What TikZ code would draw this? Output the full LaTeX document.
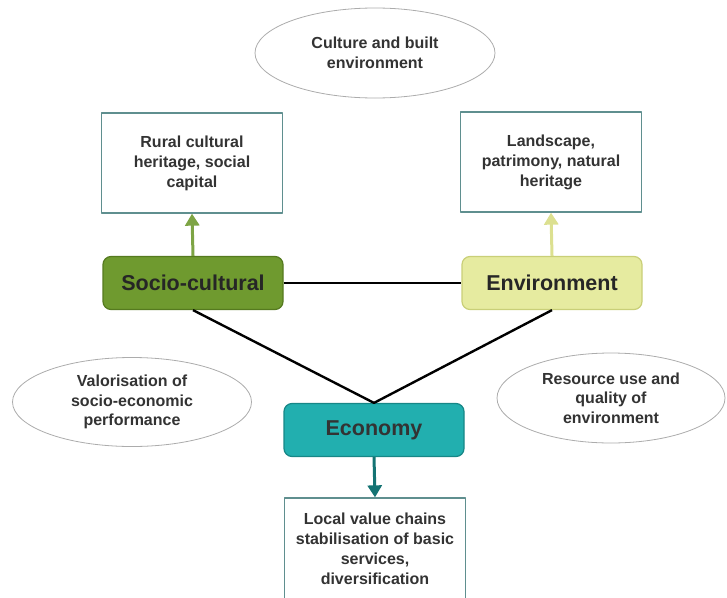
\documentclass[tikz,border=0pt]{standalone}
\usepackage{fontspec}
\setmainfont{Liberation Sans}
\usetikzlibrary{shapes.geometric,arrows.meta}
\definecolor{socfill}{HTML}{6F9A2F}
\definecolor{socedge}{HTML}{557A1F}
\definecolor{envfill}{HTML}{E6EBA0}
\definecolor{envedge}{HTML}{C9CF78}
\definecolor{ecofill}{HTML}{22AFAF}
\definecolor{ecoedge}{HTML}{178787}
\definecolor{boxedge}{HTML}{5F8F8F}
\definecolor{textgray}{HTML}{333333}
\begin{document}
\begin{tikzpicture}[x=1pt, y=-1pt, line join=round,
		>={Triangle[width=14pt,length=12pt]},
		pillar/.style={draw, rounded corners=8pt, line width=1.2pt, minimum width=180pt, minimum height=53pt, font=\fontsize{21.5}{24}\selectfont\bfseries},
		outcome/.style={draw=boxedge, line width=1.3pt, fill=white, minimum width=181pt, minimum height=100pt, align=center, text=textgray, font=\fontsize{16}{20}\selectfont\bfseries},
		theme/.style={ellipse, draw=gray!65, line width=0.8pt, fill=white, inner sep=0pt, align=center, text=textgray, font=\fontsize{16}{19.5}\selectfont\bfseries}]
	\useasboundingbox (0,0) rectangle (727,597);
	% three pillars
	\node[pillar, fill=socfill, draw=socedge, text=black!85] (soc) at (193,283) {Socio-cultural};
	\node[pillar, fill=envfill, draw=envedge, text=black!85] (env) at (552,283) {Environment};
	\node[pillar, fill=ecofill, draw=ecoedge, text=black!80] (eco) at (374,430) {Economy};
	% what each pillar stands for
	\node[outcome] (heritage) at (192,163) {Rural cultural\\heritage, social\\capital};
	\node[outcome] (landscape) at (551,162) {Landscape,\\patrimony, natural\\heritage};
	\node[outcome, minimum height=102pt] (chains) at (375,549) {Local value chains\\stabilisation of basic\\services,\\diversification};
	% themes between the pillars
	\node[theme, minimum width=240pt, minimum height=90pt] (built) at (375,53) {Culture and built\\environment};
	\node[theme, minimum width=239pt, minimum height=89pt] (valor) at (132,402) {Valorisation of\\socio-economic\\performance};
	\node[theme, minimum width=228pt, minimum height=90pt] (resource) at (611,398) {Resource use and\\quality of\\environment};
	% links
	\draw[line width=2.4pt] (soc.east)--(env.west);
	\draw[line width=2.4pt] (soc.south)--(eco.north)--(env.south);
	\draw[->, line width=3pt, draw=socfill!90!white, fill=socfill!90!white] (soc.north)--(heritage.south);
	\draw[->, line width=3pt, draw=envfill!90!olive, fill=envfill!90!olive] (env.north)--(landscape.south);
	\draw[->, line width=3pt, draw=ecoedge!85!black, fill=ecoedge!85!black] (eco.south)--(chains.north);
\end{tikzpicture}
\end{document}
